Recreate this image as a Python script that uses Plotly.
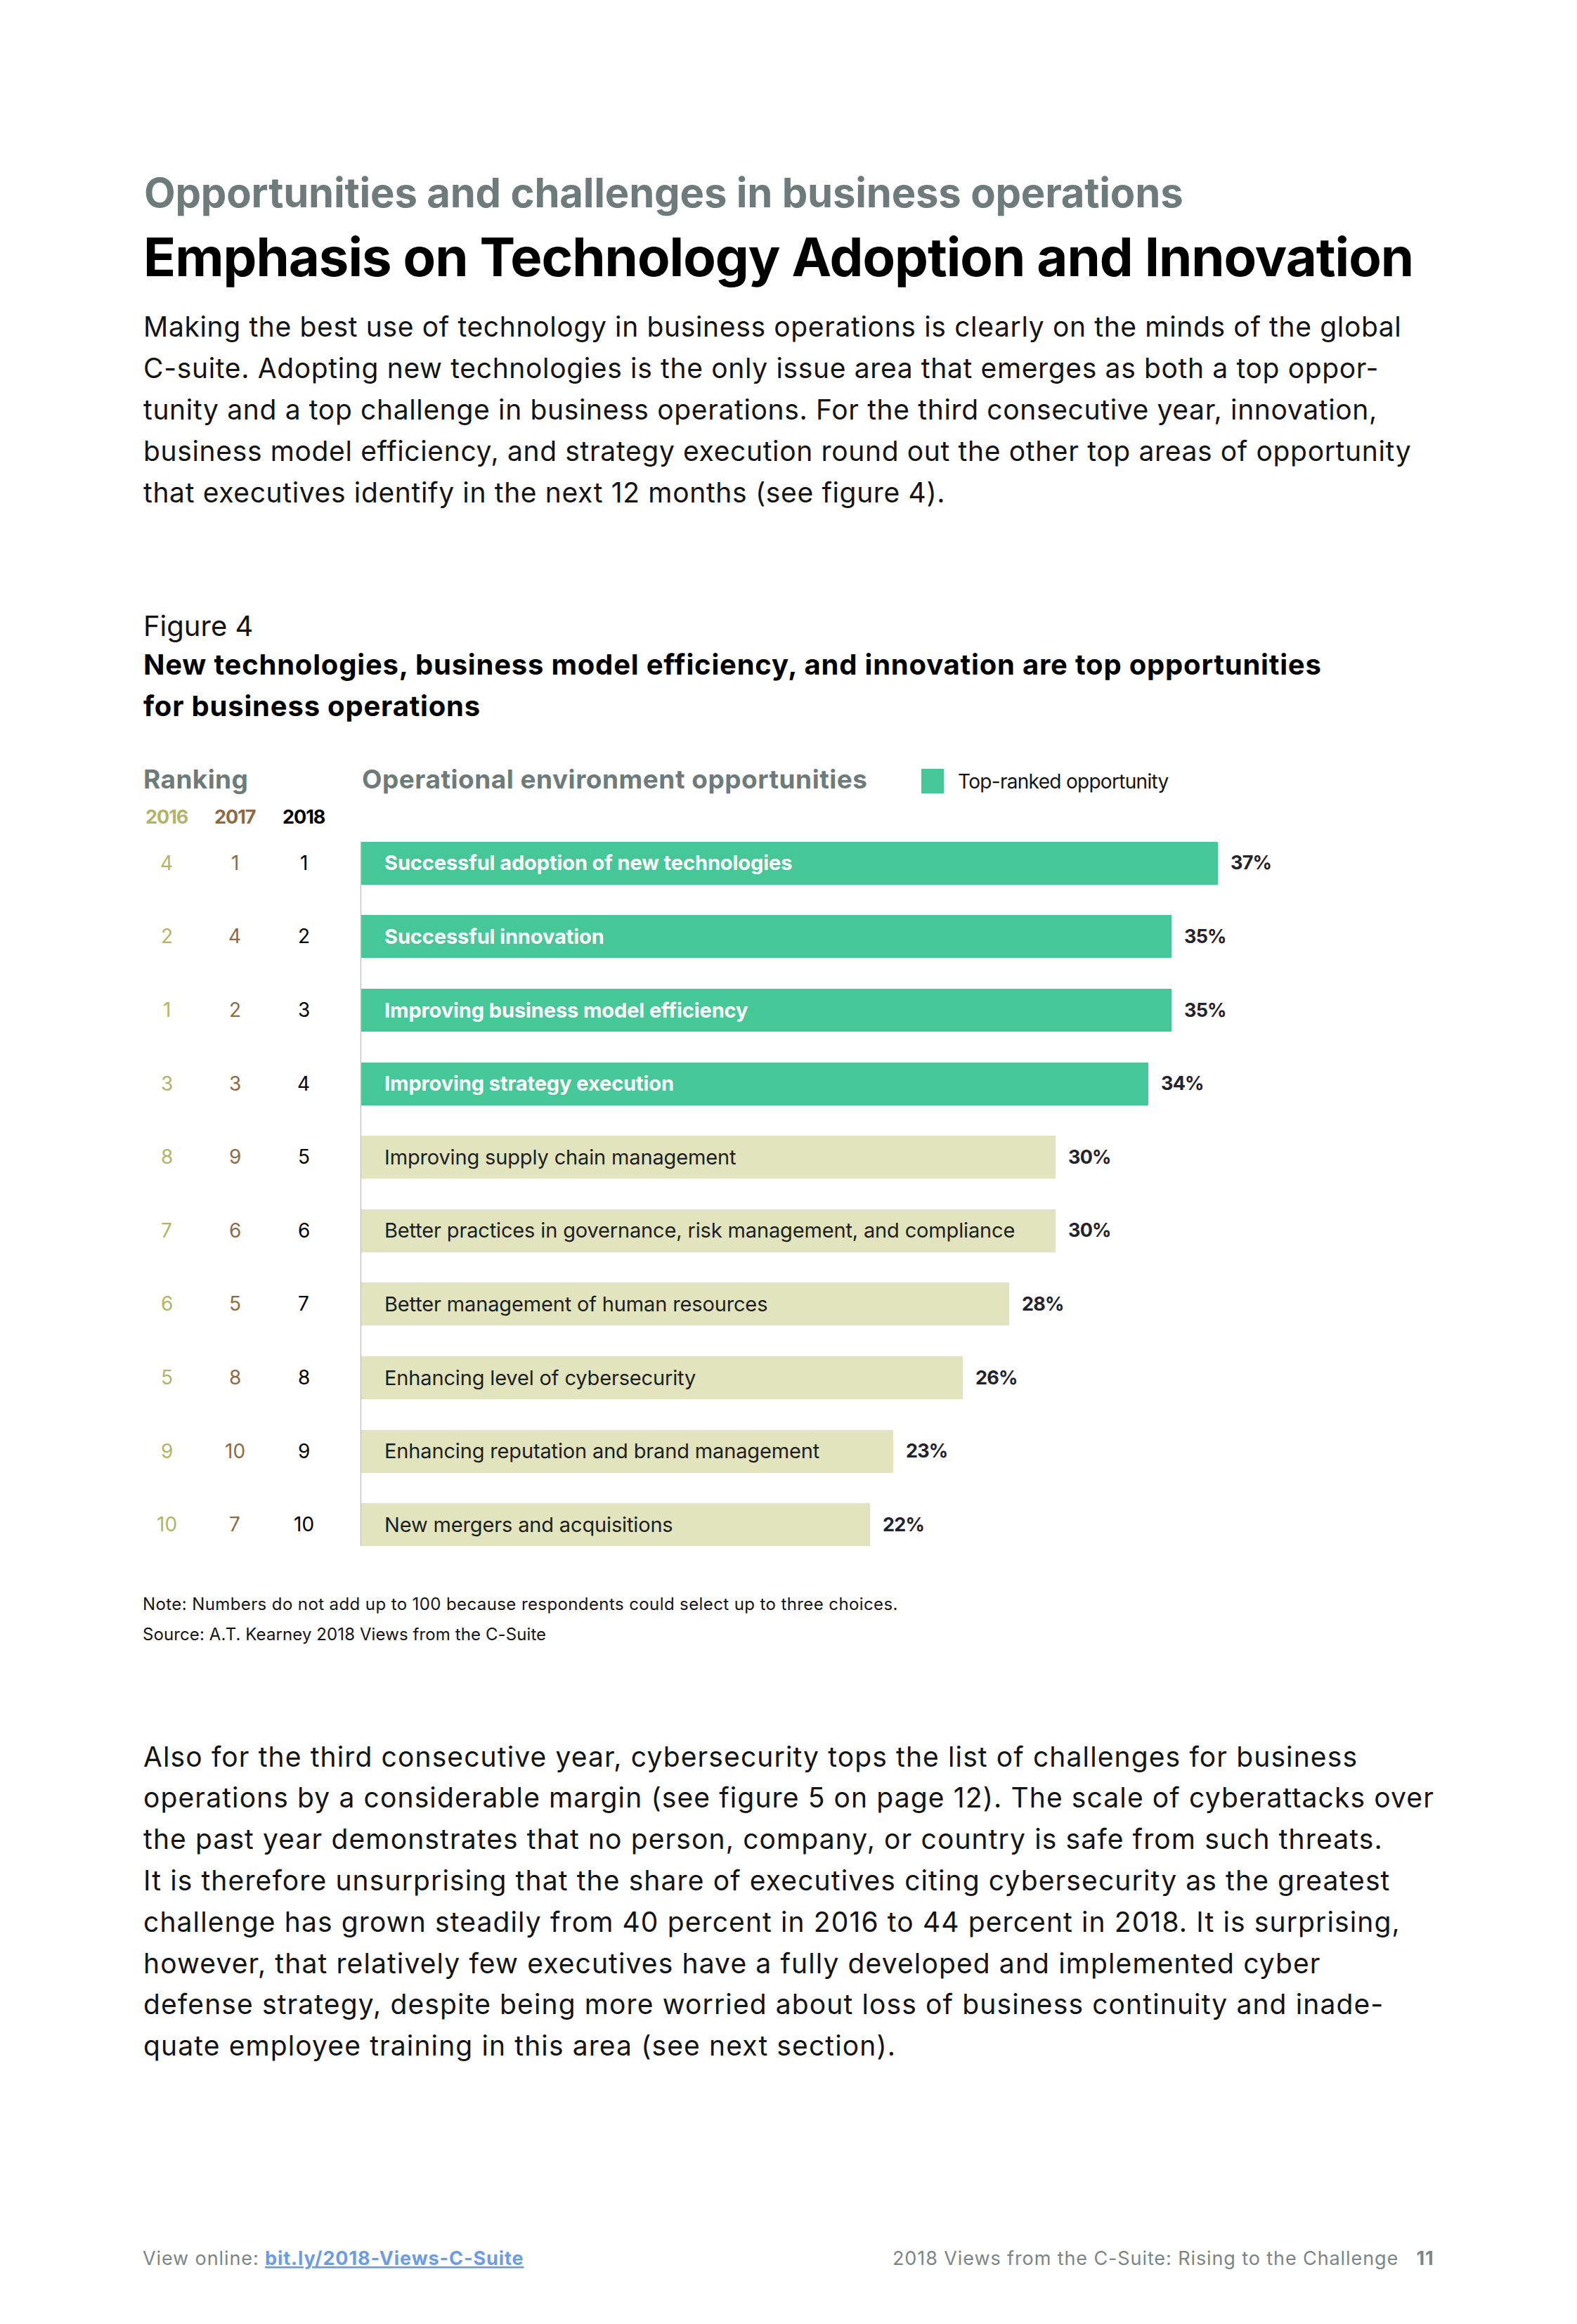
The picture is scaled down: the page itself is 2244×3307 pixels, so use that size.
import plotly.graph_objects as go

W, H = 2244, 3307

# ---------------- data ----------------
categories = [
    "Successful adoption of new technologies",
    "Successful innovation",
    "Improving business model efficiency",
    "Improving strategy execution",
    "Improving supply chain management",
    "Better practices in governance, risk management, and compliance",
    "Better management of human resources",
    "Enhancing level of cybersecurity",
    "Enhancing reputation and brand management",
    "New mergers and acquisitions",
]
values = [37, 35, 35, 34, 30, 30, 28, 26, 23, 22]
rank_2016 = [4, 2, 1, 3, 8, 7, 6, 5, 9, 10]
rank_2017 = [1, 4, 2, 3, 9, 6, 5, 8, 10, 7]
rank_2018 = [1, 2, 3, 4, 5, 6, 7, 8, 9, 10]
top_ranked = [True, True, True, True, False, False, False, False, False, False]
year_labels = ["2016", "2017", "2018"]

para1 = [
    "Making the best use of technology in business operations is clearly on the minds of the global",
    "C-suite. Adopting new technologies is the only issue area that emerges as both a top oppor-",
    "tunity and a top challenge in business operations. For the third consecutive year, innovation,",
    "business model efficiency, and strategy execution round out the other top areas of opportunity",
    "that executives identify in the next 12 months (see figure 4).",
]
para2 = [
    "Also for the third consecutive year, cybersecurity tops the list of challenges for business",
    "operations by a considerable margin (see figure 5 on page 12). The scale of cyberattacks over",
    "the past year demonstrates that no person, company, or country is safe from such threats.",
    "It is therefore unsurprising that the share of executives citing cybersecurity as the greatest",
    "challenge has grown steadily from 40 percent in 2016 to 44 percent in 2018. It is surprising,",
    "however, that relatively few executives have a fully developed and implemented cyber",
    "defense strategy, despite being more worried about loss of business continuity and inade-",
    "quate employee training in this area (see next section).",
]

# ---------------- style ----------------
FONT = "Inter"
GREEN = "#46C797"
BEIGE = "#E2E4BD"
GRAY_HEAD = "#6E7B7B"
C2016 = "#B3B466"
C2017 = "#8E6B43"
DARK = "#141414"
FOOT_GRAY = "#7B8686"
LINK = "#6C9CE6"

PX_PER_PCT = 32.96
BASE_PX = 512.7
ROW0 = 1227.8
PITCH = 104.6

def px(x):
    return x / W

def py(y):
    return 1 - y / H

bar_colors = [GREEN if t else BEIGE for t in top_ranked]

fig = go.Figure()
fig.add_trace(go.Bar(
    x=values, y=rank_2018, orientation="h",
    marker=dict(color=bar_colors, line=dict(width=0)),
    width=61 / PITCH, hoverinfo="skip", showlegend=False,
))

annotations = []

def ann(text, x, y, size, color=DARK, bold=False, anchor="left", ls=None,
        xref="paper", yref="paper", xshift=0, weight=None):
    t = text
    if ls is not None:
        t = f'<span style="letter-spacing:{ls}px">{t}</span>'
    w = weight if weight is not None else (700 if bold else 400)
    annotations.append(dict(
        text=t, x=x, y=y, xref=xref, yref=yref, xanchor=anchor, yanchor="middle",
        showarrow=False, xshift=xshift,
        font=dict(family=FONT, size=size, color=color, weight=w),
        borderpad=0,
    ))

# headings
ann("Opportunities and challenges in business operations", px(204), py(274), 58, GRAY_HEAD, True, ls=-0.2)
ann("Emphasis on Technology Adoption and Innovation", px(203), py(364.5), 76, "#000000", True, ls=-1)
for i, line in enumerate(para1):
    ann(line, px(203), py(464.5 + 59 * i), 39, DARK, ls=0.65)

ann("Figure 4", px(203), py(890), 40, DARK)
ann("New technologies, business model efficiency, and innovation are top opportunities",
    px(203), py(946), 40, "#000000", True, ls=0.8)
ann("for business operations", px(203), py(1004), 40, "#000000", True, ls=0.8)

ann("Ranking", px(203), py(1108.5), 37, GRAY_HEAD, True, ls=0.4)
ann("Operational environment opportunities", px(514), py(1108.5), 37, GRAY_HEAD, True, ls=0.5)
ann("Top-ranked opportunity", px(1362), py(1112), 28, DARK, ls=-0.7)

col_x = [237, 334, 432]
col_colors = [C2016, C2017, "#000000"]
for lbl, cx, cc in zip(year_labels, col_x, col_colors):
    ann(lbl, px(cx), py(1162.5), 27, cc, True, anchor="center", ls=-1)

# rank columns, positioned with the y axis
for ranks, cx, cc in zip([rank_2016, rank_2017, rank_2018], col_x, col_colors):
    for r, yr in zip(ranks, rank_2018):
        ann(str(r), px(cx), yr, 28, cc, anchor="center", yref="y")

# bar labels and values
for cat, v, yr, top in zip(categories, values, rank_2018, top_ranked):
    if top:
        ann(cat, px(546), yr, 29, "#FFFFFF", True, yref="y", ls=-0.1)
    else:
        ann(cat, px(546), yr, 29, "#1E1E1E", False, yref="y", ls=-0.15)
    ann(f"{v}%", v, yr, 27, "#23232D", True, xref="x", yref="y", xshift=17.5, ls=-0.8)

ann("Note: Numbers do not add up to 100 because respondents could select up to three choices.",
    px(202), py(2282), 24, DARK, ls=0.4)
ann("Source: A.T. Kearney 2018 Views from the C-Suite", px(202), py(2325), 24, DARK, ls=0.1)

for i, line in enumerate(para2):
    ann(line, px(203), py(2499 + 58.8 * i), 39, DARK, ls=1.12)

ann('View online: <b><span style="fill:%s"><u>bit.ly/2018-Views-C-Suite</u></span></b>' % LINK,
    px(202), py(3213), 27, FOOT_GRAY, ls=0.9)
ann("2018 Views from the C-Suite: Rising to the Challenge   <b>11</b>",
    px(2042), py(3213), 27, FOOT_GRAY, anchor="right", ls=0.9)

shapes = [
    # axis line
    dict(type="line", xref="x", yref="y", x0=0, x1=0, y0=1 - 0.2915, y1=10 + 0.2915,
         line=dict(color="#C4C4C4", width=3)),
    # legend swatch
    dict(type="rect", xref="paper", yref="paper", x0=px(1311), x1=px(1343),
         y0=py(1129), y1=py(1094), fillcolor=GREEN, line=dict(width=0)),
]

x_range_max = (W - BASE_PX) / PX_PER_PCT
y_top = ROW0 - 0.5 * PITCH
y_bot = ROW0 + 9.5 * PITCH

fig.update_layout(
    width=W, height=H,
    margin=dict(l=0, r=0, t=0, b=0),
    paper_bgcolor="white", plot_bgcolor="white",
    xaxis=dict(domain=[px(BASE_PX), 1], range=[0, x_range_max], visible=False, fixedrange=True),
    yaxis=dict(domain=[py(y_bot), py(y_top)], range=[10.5, 0.5], visible=False, fixedrange=True),
    bargap=0,
    annotations=annotations,
    shapes=shapes,
    showlegend=False,
)

fig.write_html(
    "out.html",
    config={"displayModeBar": False},
    post_script="document.body.style.margin='0';document.body.style.overflow='hidden';",
)
